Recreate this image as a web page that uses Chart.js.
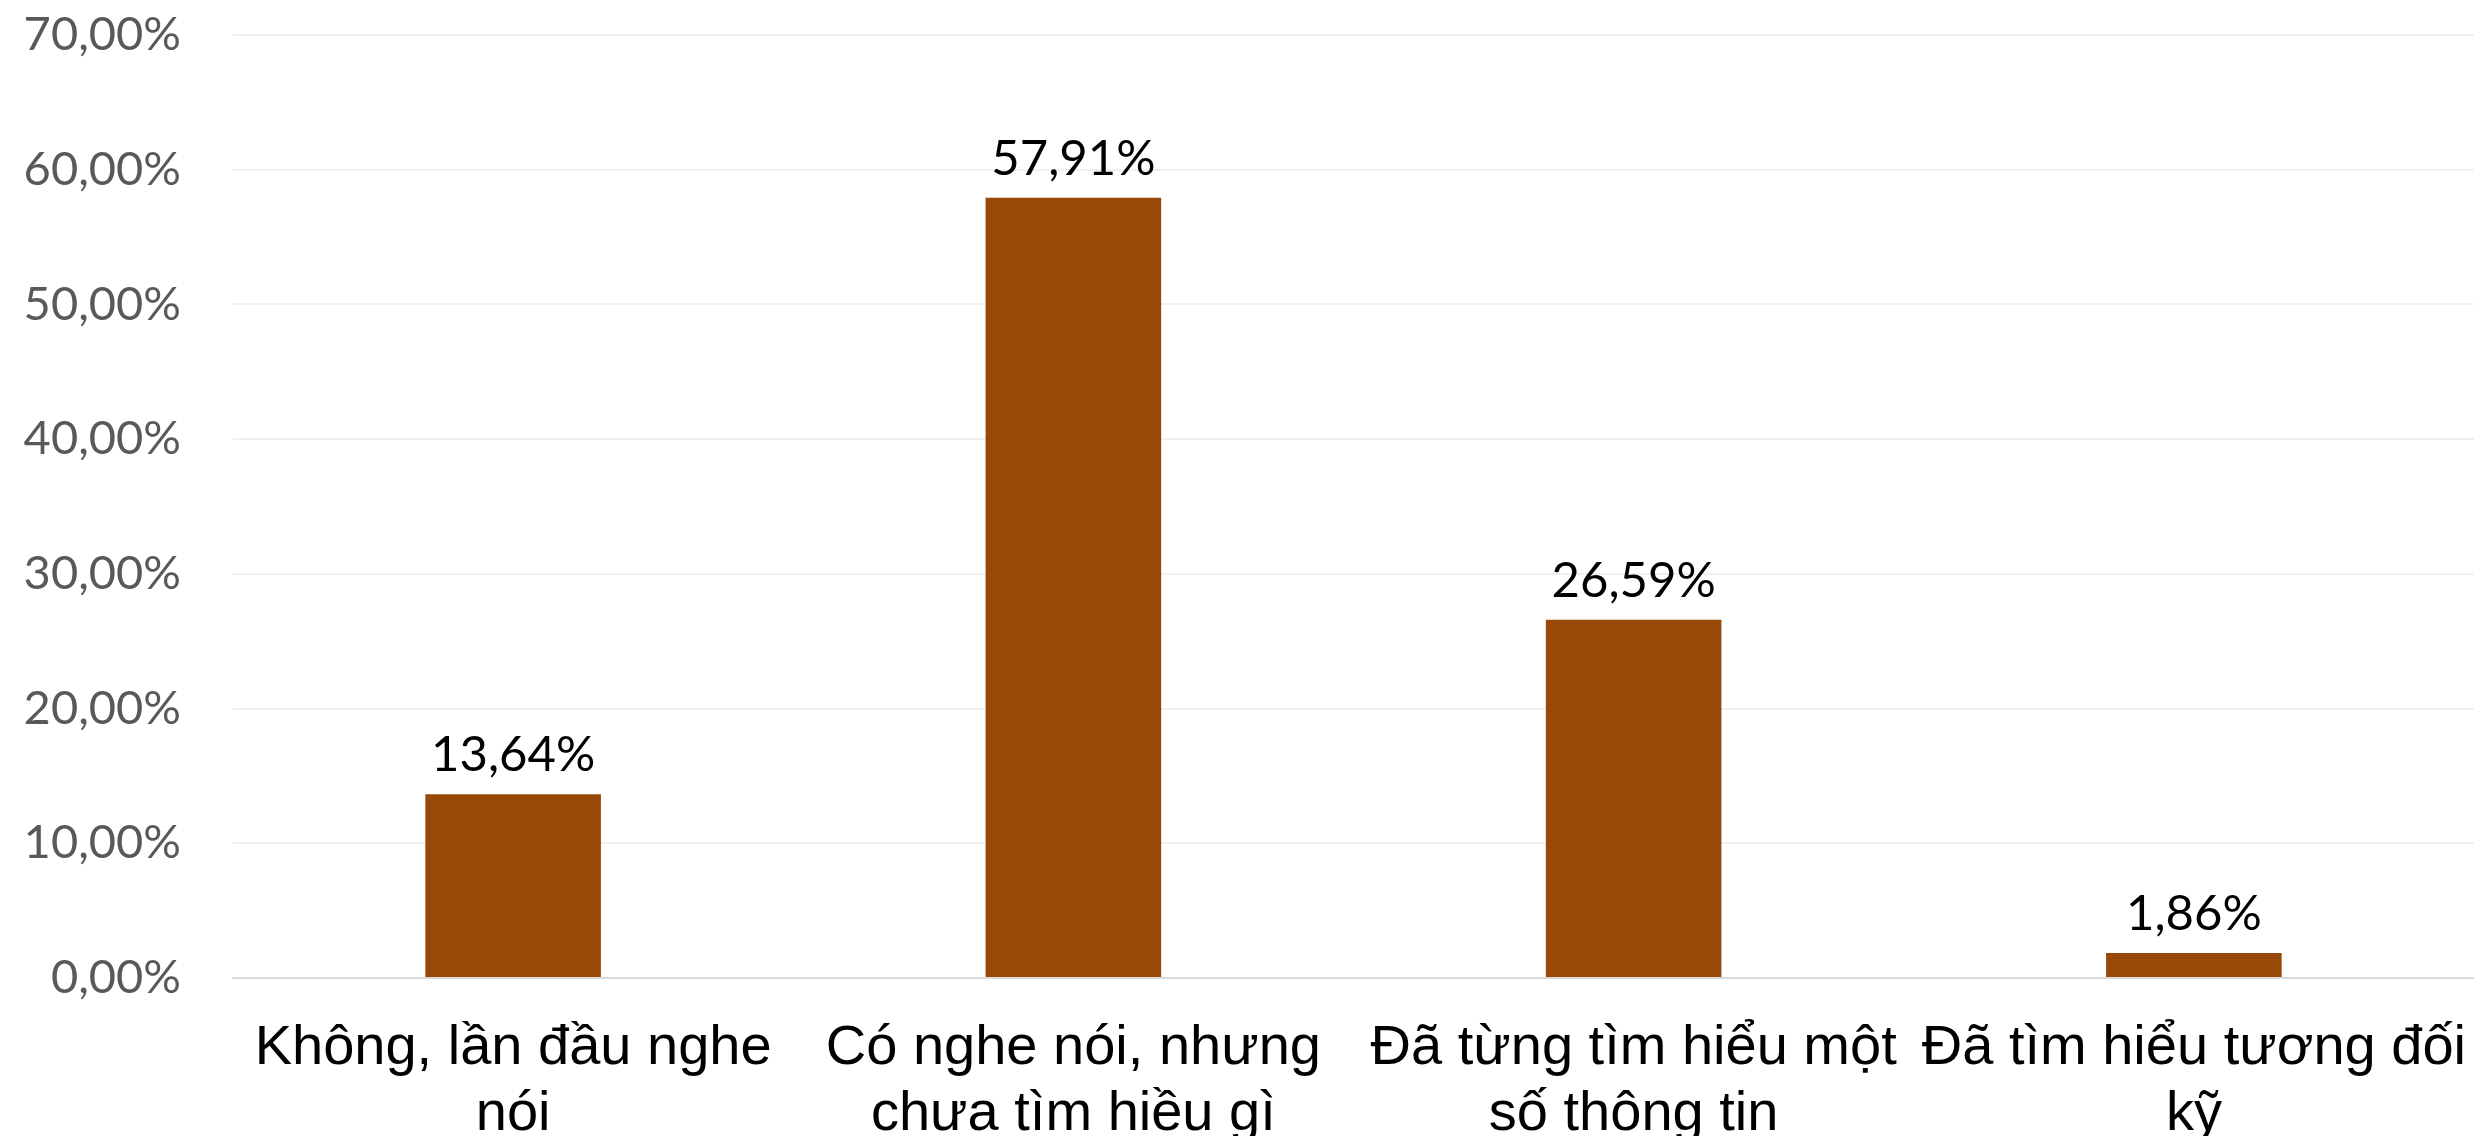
<!DOCTYPE html>
<html>
<head>
<meta charset="utf-8">
<script src="https://cdn.jsdelivr.net/npm/chart.js@4.4.0/dist/chart.umd.min.js"></script>
<style>
  html, body { margin: 0; padding: 0; background: #ffffff; }
  #wrap { width: 2474px; height: 1136px; }
</style>
</head>
<body>
<div id="wrap"><canvas id="c" width="2474" height="1136"></canvas></div>
<script>
const categories = [
  ["Không, lần đầu nghe", "nói"],
  ["Có nghe nói, nhưng", "chưa tìm hiều gì"],
  ["Đã từng tìm hiểu một", "số thông tin"],
  ["Đã tìm hiểu tương đối", "kỹ"]
];
const values = [13.64, 57.91, 26.59, 1.86];
const yTicks = [0, 10, 20, 30, 40, 50, 60, 70];

function fmtPct(v) {
  return v.toFixed(2).replace('.', ',') + '%';
}

const valueLabels = {
  id: 'valueLabels',
  afterDatasetsDraw(chart) {
    const ctx = chart.ctx;
    const meta = chart.getDatasetMeta(0);
    ctx.save();
    ctx.font = '49px Lato';
    ctx.fillStyle = '#000000';
    ctx.textAlign = 'center';
    ctx.textBaseline = 'alphabetic';
    meta.data.forEach((bar, i) => {
      ctx.fillText(fmtPct(values[i]), bar.x, bar.y - 23);
    });
    ctx.restore();
  }
};

new Chart(document.getElementById('c'), {
  type: 'bar',
  data: {
    labels: categories,
    datasets: [{
      data: values,
      backgroundColor: '#984807',
      borderWidth: 0,
      barPercentage: 0.3134,
      categoryPercentage: 1.0
    }]
  },
  options: {
    responsive: false,
    devicePixelRatio: 1,
    animation: false,
    layout: { padding: { top: 35, right: 0, bottom: 0, left: 0 } },
    plugins: {
      legend: { display: false },
      tooltip: { enabled: false }
    },
    scales: {
      x: {
        offset: true,
        grid: { display: false, drawTicks: false },
        border: { display: true, color: '#d9d9d9', width: 2 },
        ticks: {
          color: '#000000',
          font: { family: 'Liberation Sans', size: 56, lineHeight: 1.17 },
          padding: 38,
          maxRotation: 0,
          minRotation: 0,
          autoSkip: false
        },
        afterFit(scale) {
          scale.height = 158;
          scale.paddingLeft = 0;
          scale.paddingRight = 0;
        }
      },
      y: {
        min: 0,
        max: 70,
        afterBuildTicks(scale) {
          scale.ticks = yTicks.map(v => ({ value: v }));
        },
        grid: { color: '#f0f0f0', lineWidth: 2, drawTicks: false },
        border: { display: false },
        ticks: {
          color: '#595959',
          font: { family: 'Lato', size: 47 },
          padding: 52,
          callback: (v) => fmtPct(v)
        },
        afterFit(scale) {
          scale.width = 233;
          scale.paddingTop = 0;
          scale.paddingBottom = 0;
        }
      }
    }
  },
  plugins: [valueLabels]
});
</script>
</body>
</html>
